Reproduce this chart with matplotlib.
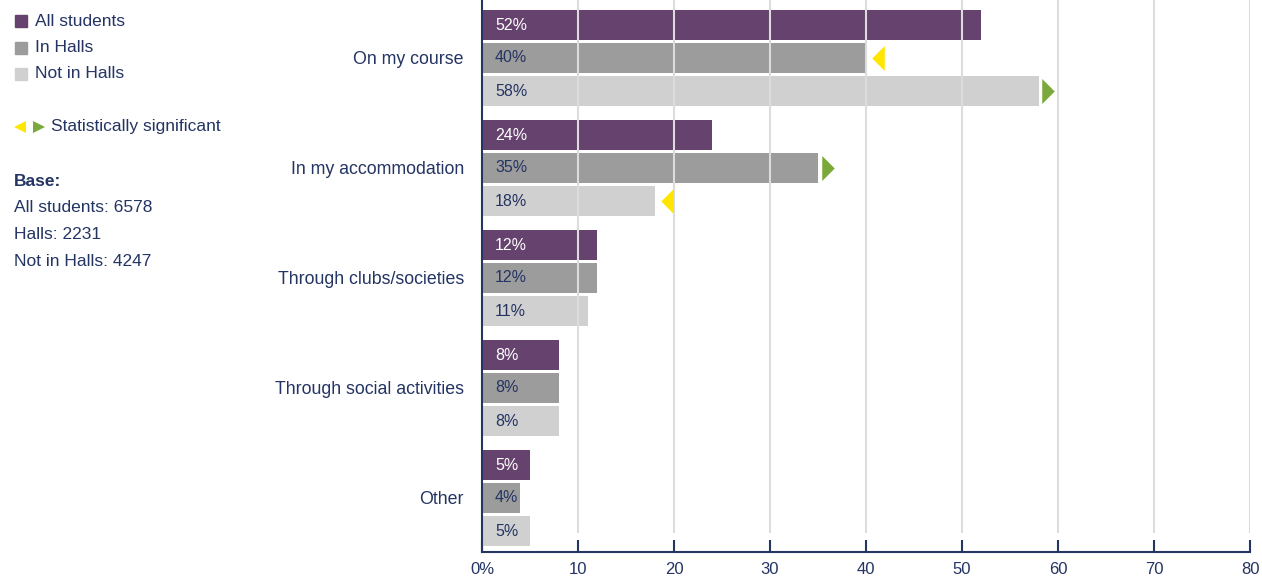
import matplotlib.pyplot as plt
import numpy as np
from matplotlib.patches import Rectangle

plt.rcParams['font.family'] = ['Liberation Sans', 'DejaVu Sans']

categories = ['On my course', 'In my accommodation', 'Through clubs/societies',
              'Through social activities', 'Other']
series_names = ['All students', 'In Halls', 'Not in Halls']
all_students = [52, 24, 12, 8, 5]
in_halls = [40, 35, 12, 8, 4]
not_in_halls = [58, 18, 11, 8, 5]
# significance flags: 'down' = yellow left arrow, 'up' = green right arrow
sig_halls = ['down', 'up', None, None, None]
sig_not_halls = ['up', 'down', None, None, None]
base_lines = ['All students: 6578', 'Halls: 2231', 'Not in Halls: 4247']
xticks = [0, 10, 20, 30, 40, 50, 60, 70, 80]
xticklabels = ['0%', '10', '20', '30', '40', '50', '60', '70', '80']

purple = '#66426e'
dgrey = '#9c9c9c'
lgrey = '#d0d0d0'
navy = '#243463'
yellow = '#ffe600'
green = '#7ba83a'
colors = [purple, dgrey, lgrey]
label_colors = ['white', navy, navy]

W, H = 1262, 577
fig = plt.figure(figsize=(W / 100, H / 100), dpi=100)
ax = fig.add_axes([482 / W, 25 / H, 768 / W, 552 / H])

y = np.arange(len(categories))
offsets = [-0.3, 0.0, 0.3]
h = 0.273
series = [all_students, in_halls, not_in_halls]

for vals, off, col, lc in zip(series, offsets, colors, label_colors):
    ax.barh(y + off, vals, height=h, color=col, zorder=2)
    for yi, v in zip(y, vals):
        ax.text(1.35, yi + off, f'{v}%', color=lc, fontsize=11.5,
                va='center', ha='left', zorder=4)

left_tri = [(-0.25, 0), (0.25, 0.5), (0.25, -0.5)]
right_tri = [(0.25, 0), (-0.25, 0.5), (-0.25, -0.5)]
for vals, flags, off in [(in_halls, sig_halls, 0.0), (not_in_halls, sig_not_halls, 0.3)]:
    for yi, v, f in zip(y, vals, flags):
        if f == 'down':
            ax.plot(v + 1.25, yi + off, marker=left_tri, markersize=18,
                    color=yellow, markeredgewidth=0, zorder=5)
        elif f == 'up':
            ax.plot(v + 1.0, yi + off, marker=right_tri, markersize=18,
                    color=green, markeredgewidth=0, zorder=5)

ax.set_xlim(0, 80)
ax.set_ylim((552 - 58) / 110, -58 / 110)
ax.vlines(xticks[1:], -58 / 110, (533 - 58) / 110, color='#dcdcdc', lw=1.5, zorder=3)

ax.set_yticks(y)
ax.set_yticklabels(categories, fontsize=12.8, color=navy)
ax.tick_params(axis='y', length=0, pad=13)
ax.set_xticks(xticks)
ax.set_xticklabels(xticklabels, fontsize=12, color=navy)
ax.tick_params(axis='x', direction='in', length=8.6, width=1.5, color=navy, pad=7)
for s in ['top', 'right']:
    ax.spines[s].set_visible(False)
for s in ['left', 'bottom']:
    ax.spines[s].set_color(navy)
    ax.spines[s].set_linewidth(1.5)

# legend / notes panel in pixel coordinates
lg = fig.add_axes([0, 0, 1, 1])
lg.set_xlim(0, W)
lg.set_ylim(H, 0)
lg.axis('off')
for i, (name, col) in enumerate(zip(series_names, colors)):
    yc = 21 + i * 26.5
    lg.add_patch(Rectangle((15, yc - 6), 12, 12, color=col))
    lg.text(35, yc, name, fontsize=12.5, color=navy, va='center')
lg.plot(20, 127, marker='<', markersize=8.5, color=yellow, markeredgewidth=0)
lg.plot(38.5, 127, marker='>', markersize=8.5, color=green, markeredgewidth=0)
lg.text(51, 127, 'Statistically significant', fontsize=12.5, color=navy, va='center')
lg.text(14, 182, 'Base:', fontsize=12.5, color=navy, va='center', fontweight='bold')
for i, t in enumerate(base_lines):
    lg.text(14, 208 + i * 26.5, t, fontsize=12.5, color=navy, va='center')

fig.savefig('out.png', dpi=100)
